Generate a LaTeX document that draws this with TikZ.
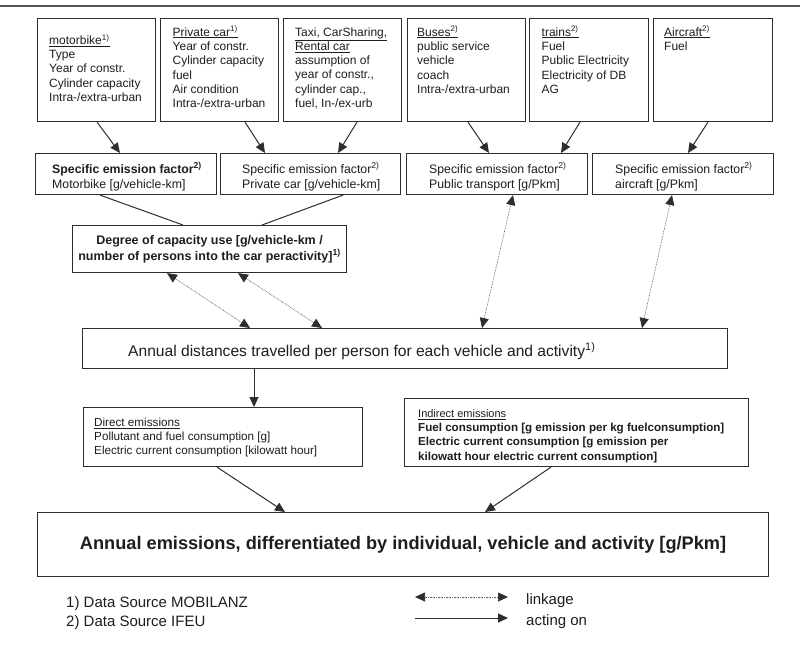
\documentclass[tikz,border=0pt]{standalone}
\usepackage{fontspec}
\setmainfont{Liberation Sans}
\usetikzlibrary{arrows.meta,calc}
\definecolor{ink}{HTML}{1E1E1E}
\definecolor{edge}{HTML}{2E2E2E}
\definecolor{rulec}{HTML}{555555}
\newcommand\sups[1]{\textsuperscript{#1}}
\newcommand\fs[2]{\fontsize{#1}{#2}\selectfont}
\begin{document}
\begin{tikzpicture}[x=1pt,y=-1pt,
  box/.style={draw=edge, line width=1.1pt, inner sep=0pt, anchor=north west, text=ink},
  txt/.style={anchor=north west, inner sep=0pt, align=left, text=ink},
  ltxt/.style={anchor=base west, inner sep=0pt, text=ink},
  act/.style={draw=edge, line width=1pt, -{Triangle[length=10pt,width=9pt]}},
  plainline/.style={draw=edge, line width=1pt},
  link/.style={draw=edge!75, line width=0.7pt, dash pattern=on 0.7pt off 0.9pt,
    {Triangle[length=10pt,width=9pt,color=edge]}-{Triangle[length=10pt,width=9pt,color=edge]}},
]
\fill[white] (0,0) rectangle (800,646);
\useasboundingbox (0,0) rectangle (800,646);
\coordinate (rl) at (0,6);
\coordinate (rr) at (800,6);
\draw[rulec, line width=2pt] (rl) -- (rr);

% ---- top row boxes
\node[box, minimum width=118pt, minimum height=103pt] (moto)  at (37,18) {};
\node[box, minimum width=118pt, minimum height=103pt] (pcar)  at (160,18) {};
\node[box, minimum width=118pt, minimum height=103pt] (taxi)  at (283,18) {};
\node[box, minimum width=118pt, minimum height=103pt] (bus)   at (407,18) {};
\node[box, minimum width=119pt, minimum height=103pt] (train) at (529,18) {};
\node[box, minimum width=119pt, minimum height=103pt] (air)   at (653,18) {};

\begin{scope}[every node/.append style={font=\fs{12}{14.3}}]
\node[txt] (motot) at (49,34) {\strut\underline{motorbike\sups{1)}}\\Type\\Year of constr.\\Cylinder capacity\\Intra-/extra-urban};
\node[txt] (pcart) at (172.5,25.8) {\strut\underline{Private car\sups{1)}}\\Year of constr.\\Cylinder capacity\\fuel\\Air condition\\Intra-/extra-urban};
\node[txt] (taxit) at (295,25.8) {\strut\underline{Taxi, CarSharing,}\\\underline{Rental car}\\assumption of\\year of constr.,\\cylinder cap.,\\fuel, In-/ex-urb};
\node[txt] (bust) at (417,25.8) {\strut\underline{Buses\sups{2)}}\\public service\\vehicle\\coach\\Intra-/extra-urban};
\node[txt] (traint) at (541.5,25.8) {\strut\underline{trains\sups{2)}}\\Fuel\\Public Electricity\\Electricity of DB\\AG};
\node[txt] (airt) at (664,25.8) {\strut\underline{Aircraft\sups{2)}}\\Fuel};
\end{scope}

% ---- specific emission factor row
\node[box, minimum width=181pt, minimum height=41pt] (sefm) at (35,153) {};
\node[box, minimum width=180pt, minimum height=41pt] (sefp) at (220,153) {};
\node[box, minimum width=181pt, minimum height=41pt] (seft) at (406,153) {};
\node[box, minimum width=181pt, minimum height=41pt] (sefa) at (592,153) {};
\begin{scope}[every node/.append style={font=\fs{12.3}{15}}]
\node[txt] (sefmt) at (52,162.5) {\strut\textbf{Specific emission factor\sups{2)}}\\Motorbike [g/vehicle-km]};
\node[txt] (sefpt) at (242,162.5) {\strut Specific emission factor\sups{2)}\\Private car [g/vehicle-km]};
\node[txt] (seftt) at (429,162.5) {\strut Specific emission factor\sups{2)}\\Public transport [g/Pkm]};
\node[txt] (sefat) at (615,162.5) {\strut Specific emission factor\sups{2)}\\aircraft [g/Pkm]};
\end{scope}

% ---- degree of capacity use
\node[box, minimum width=274pt, minimum height=47pt, align=center, font=\bfseries\fs{12.5}{15.5}] (deg) at (72,225)
  {Degree of capacity use [g/vehicle-km /\\number of persons into the car peractivity]\sups{1)}};

% ---- annual distances
\node[box, minimum width=645pt, minimum height=40pt] (dist) at (82,328) {};
\node[ltxt, font=\fs{15.6}{19}] (distt) at (128,356) {Annual distances travelled per person for each vehicle and activity\sups{1)}};

% ---- direct / indirect
\node[box, minimum width=279pt, minimum height=59pt] (direct) at (83,407) {};
\node[txt, font=\fs{11.7}{14}] (directt) at (94,416.2) {\strut\underline{Direct emissions}\\Pollutant and fuel consumption [g]\\Electric current consumption [kilowatt hour]};
\node[box, minimum width=344pt, minimum height=68pt] (indirect) at (404,398) {};
\node[txt, font=\bfseries\fs{11.6}{14.3}] (indirectt) at (418,407) {\strut{\mdseries\fs{11}{14.3}\underline{Indirect emissions}}\\Fuel consumption [g emission per kg fuelconsumption]\\Electric current consumption [g emission per\\kilowatt hour electric current consumption]};

% ---- annual emissions
\node[box, minimum width=731pt, minimum height=64pt, font=\bfseries\fs{18.2}{21}] (emis) at (37,512)
  {Annual emissions, differentiated by individual, vehicle and activity [g/Pkm]};

% ---- connectors
\draw[act] ($(moto.south west)+(60,0)$) -- ($(sefm.north west)+(85,0)$);
\draw[act] ($(pcar.south west)+(85,0)$) -- ($(sefp.north west)+(45,0)$);
\draw[act] ($(taxi.south west)+(74,0)$) -- ($(sefp.north west)+(118,0)$);
\draw[act] ($(bus.south west)+(61,0)$) -- ($(seft.north west)+(83,0)$);
\draw[act] ($(train.south west)+(51,0)$) -- ($(seft.north west)+(155,0)$);
\draw[act] ($(air.south west)+(55,0)$) -- ($(sefa.north west)+(96,0)$);

\draw[plainline] ($(sefm.south west)+(65,0)$) -- ($(deg.north west)+(111,0)$);
\draw[plainline] ($(sefp.south west)+(123,0)$) -- ($(deg.north west)+(190,0)$);

\draw[link] ($(deg.south west)+(95,0)$) -- ($(dist.north west)+(168,0)$);
\draw[link] ($(deg.south west)+(166,0)$) -- ($(dist.north west)+(240,0)$);
\draw[link] ($(seft.south west)+(107,0)$) -- ($(dist.north west)+(400,0)$);
\draw[link] ($(sefa.south west)+(80,0)$) -- ($(dist.north west)+(560,0)$);

\draw[act] ($(dist.south west)+(172,0)$) -- ($(direct.north west)+(171,0)$);
\draw[act] ($(direct.south west)+(134,0)$) -- ($(emis.north west)+(248,0)$);
\draw[act] ($(indirect.south west)+(147,0)$) -- ($(emis.north west)+(448,0)$);

% ---- legend
\node[ltxt, font=\fs{15}{18}] (src1) at (66,607) {1) Data Source MOBILANZ};
\node[ltxt, font=\fs{15}{18}] (src2) at (66,626) {2) Data Source IFEU};
\coordinate (la) at (415,597);
\coordinate (lb) at (508,597);
\coordinate (aa) at (415,618);
\coordinate (ab) at (508,618);
\draw[link] (la) -- (lb);
\draw[act] (aa) -- (ab);
\node[ltxt, font=\fs{15}{18}] (lk) at (526,604) {linkage};
\node[ltxt, font=\fs{15}{18}] (ao) at (526,625) {acting on};
\end{tikzpicture}
\end{document}
